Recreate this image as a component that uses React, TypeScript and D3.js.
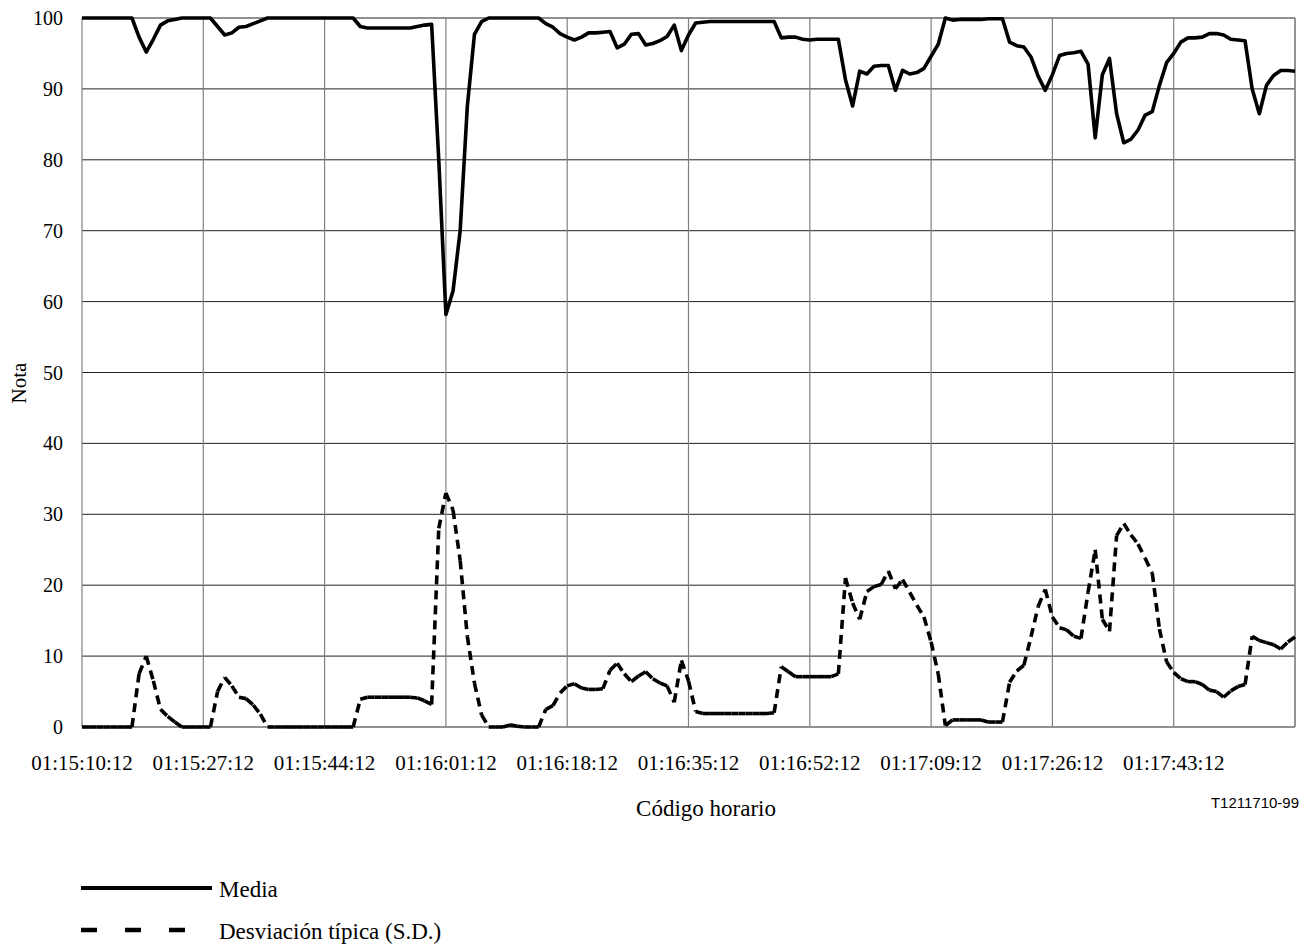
import React from "react";
import * as d3 from "d3";

// Time axis: seconds after 01:15:10:12, one sample per second
const durationSeconds = 170;
const tickStepSeconds = 17;
const timeTickLabels = [
  "01:15:10:12",
  "01:15:27:12",
  "01:15:44:12",
  "01:16:01:12",
  "01:16:18:12",
  "01:16:35:12",
  "01:16:52:12",
  "01:17:09:12",
  "01:17:26:12",
  "01:17:43:12",
];
const yTickValues = [0, 10, 20, 30, 40, 50, 60, 70, 80, 90, 100];

// Media (mean score), t = 0..170 s
const mediaValues = [
  100, 100, 100, 100, 100, 100, 100, 100, 97.3, 95.2,
  97, 99, 99.6, 99.8, 100, 100, 100, 100, 100, 98.8,
  97.6, 97.9, 98.7, 98.8, 99.2, 99.6, 100, 100, 100, 100,
  100, 100, 100, 100, 100, 100, 100, 100, 100, 98.8,
  98.6, 98.6, 98.6, 98.6, 98.6, 98.6, 98.6, 98.8, 99, 99.1,
  80, 58.2, 61.5, 70, 87.5, 97.7, 99.5, 100, 100, 100,
  100, 100, 100, 100, 100, 99.2, 98.7, 97.8, 97.3, 96.9,
  97.3, 97.9, 97.9, 98, 98.1, 95.8, 96.3, 97.7, 97.8, 96.2,
  96.4, 96.8, 97.4, 99, 95.4, 97.6, 99.3, 99.4, 99.5, 99.5,
  99.5, 99.5, 99.5, 99.5, 99.5, 99.5, 99.5, 99.5, 97.2, 97.3,
  97.3, 97, 96.9, 97, 97, 97, 97, 91.3, 87.6, 92.5,
  92.1, 93.2, 93.3, 93.3, 89.8, 92.6, 92.1, 92.3, 92.9, 94.6,
  96.3, 100, 99.7, 99.8, 99.8, 99.8, 99.8, 99.9, 99.9, 99.9,
  96.6, 96.1, 95.9, 94.5, 91.8, 89.8, 92, 94.7, 95, 95.1,
  95.3, 93.5, 83.1, 92, 94.3, 86.5, 82.4, 82.9, 84.2, 86.3,
  86.8, 90.5, 93.7, 95, 96.6, 97.2, 97.2, 97.3, 97.8, 97.8,
  97.6, 97, 96.9, 96.8, 90, 86.5, 90.5, 91.9, 92.6, 92.6,
  92.5,
];

// Desviación típica (S.D.), t = 0..170 s
const sdValues = [
  0, 0, 0, 0, 0, 0, 0, 0, 7.5, 10,
  6.5, 2.5, 1.5, 0.7, 0, 0, 0, 0, 0, 5,
  7, 5.8, 4.2, 4, 3.1, 1.8, 0, 0, 0, 0,
  0, 0, 0, 0, 0, 0, 0, 0, 0, 3.9,
  4.2, 4.2, 4.2, 4.2, 4.2, 4.2, 4.2, 4.1, 3.7, 3.2,
  28, 33, 30.6, 23.5, 12.8, 6.2, 1.7, 0, 0, 0,
  0.3, 0.1, 0, 0, 0, 2.5, 3, 4.8, 5.8, 6.1,
  5.5, 5.3, 5.3, 5.4, 8, 9, 7.5, 6.4, 7.2, 7.8,
  6.8, 6.2, 5.8, 3.5, 9.4, 6.5, 2.2, 1.9, 1.9, 1.9,
  1.9, 1.9, 1.9, 1.9, 1.9, 1.9, 1.9, 2, 8.5, 7.8,
  7.1, 7.1, 7.1, 7.1, 7.1, 7.1, 7.5, 21, 17.5, 15.2,
  19.1, 19.8, 20.1, 22, 19.5, 20.8, 19, 17.2, 15.5, 12,
  7.5, 0.2, 1, 1, 1, 1, 1, 0.7, 0.7, 0.7,
  6.3, 7.9, 8.7, 12.7, 17, 19.4, 15.5, 14, 13.7, 12.8,
  12.5, 19, 25, 15.2, 13.5, 27, 28.7, 27.1, 25.8, 23.8,
  21.7, 13.8, 9.2, 7.7, 6.8, 6.4, 6.4, 6, 5.2, 5,
  4.2, 5.1, 5.7, 6, 12.8, 12.2, 11.9, 11.6, 11, 12,
  12.7,
];

const legendLabels = ["Media", "Desviación típica (S.D.)"];
const yAxisTitle = "Nota";
const xAxisTitle = "Código horario";
const figureId = "T1211710-99";

const SERIF = "'Liberation Serif', 'Times New Roman', serif";
const SANS = "'Liberation Sans', Arial, sans-serif";

export default function App() {
  const width = 1303;
  const height = 948;
  const plot = { left: 82, right: 1295, top: 18, bottom: 727 };

  const x = d3.scaleLinear().domain([0, durationSeconds]).range([plot.left, plot.right]);
  const y = d3.scaleLinear().domain([0, 100]).range([plot.bottom, plot.top]);

  const meanPath = d3
    .line<number>()
    .x((_, i) => x(i))
    .y((d) => y(d))(mediaValues) as string;

  const gridTimes = d3.range(0, durationSeconds + 1, tickStepSeconds);

  return (
    <svg
      width={width}
      height={height}
      style={{ position: "absolute", left: 0, top: 0, display: "block", background: "#fff" }}
    >
      {/* horizontal grid */}
      {yTickValues.map((v) => (
        <line key={"h" + v} x1={plot.left} x2={plot.right} y1={y(v)} y2={y(v)} stroke="#222" strokeWidth={1} />
      ))}
      {/* vertical grid */}
      {gridTimes.map((t) => (
        <line key={"v" + t} x1={x(t)} x2={x(t)} y1={plot.top} y2={plot.bottom} stroke="#808080" strokeWidth={1.2} />
      ))}
      <line x1={plot.right} x2={plot.right} y1={plot.top} y2={plot.bottom} stroke="#808080" strokeWidth={1.2} />

      {/* y tick labels */}
      {yTickValues.map((v) => (
        <text
          key={"yl" + v}
          x={63}
          y={y(v)}
          dy="0.35em"
          textAnchor="end"
          fontFamily={SERIF}
          fontSize={20}
          fill="#000"
        >
          {v}
        </text>
      ))}

      {/* x tick labels */}
      {timeTickLabels.map((lab, i) => (
        <text
          key={"xl" + i}
          x={x(i * tickStepSeconds)}
          y={770}
          textAnchor="middle"
          fontFamily={SERIF}
          fontSize={21}
          fill="#000"
        >
          {lab}
        </text>
      ))}

      {/* SD series: dash pattern restarts on each segment */}
      <g stroke="#000" strokeWidth={3.6} fill="none" strokeDasharray="9 6" strokeLinecap="butt">
        {sdValues.slice(1).map((v, i) => (
          <line key={"sd" + i} x1={x(i)} y1={y(sdValues[i])} x2={x(i + 1)} y2={y(v)} />
        ))}
      </g>

      {/* Mean series */}
      <path d={meanPath} fill="none" stroke="#000" strokeWidth={3.6} strokeLinejoin="round" />

      {/* axis titles */}
      <text
        transform="translate(26,383) rotate(-90)"
        textAnchor="middle"
        fontFamily={SERIF}
        fontSize={21}
        fill="#000"
      >
        {yAxisTitle}
      </text>
      <text x={706} y={816} textAnchor="middle" fontFamily={SERIF} fontSize={23} fill="#000">
        {xAxisTitle}
      </text>
      <text x={1299} y={808} textAnchor="end" fontFamily={SANS} fontSize={15} fill="#000">
        {figureId}
      </text>

      {/* legend */}
      <line x1={81} x2={212} y1={888} y2={888} stroke="#000" strokeWidth={4} />
      <text x={219} y={897} fontFamily={SERIF} fontSize={23} fill="#000">
        {legendLabels[0]}
      </text>
      <line x1={81} x2={190} y1={930} y2={930} stroke="#000" strokeWidth={4.5} strokeDasharray="16 28" />
      <text x={219} y={939} fontFamily={SERIF} fontSize={23} fill="#000">
        {legendLabels[1]}
      </text>
    </svg>
  );
}
